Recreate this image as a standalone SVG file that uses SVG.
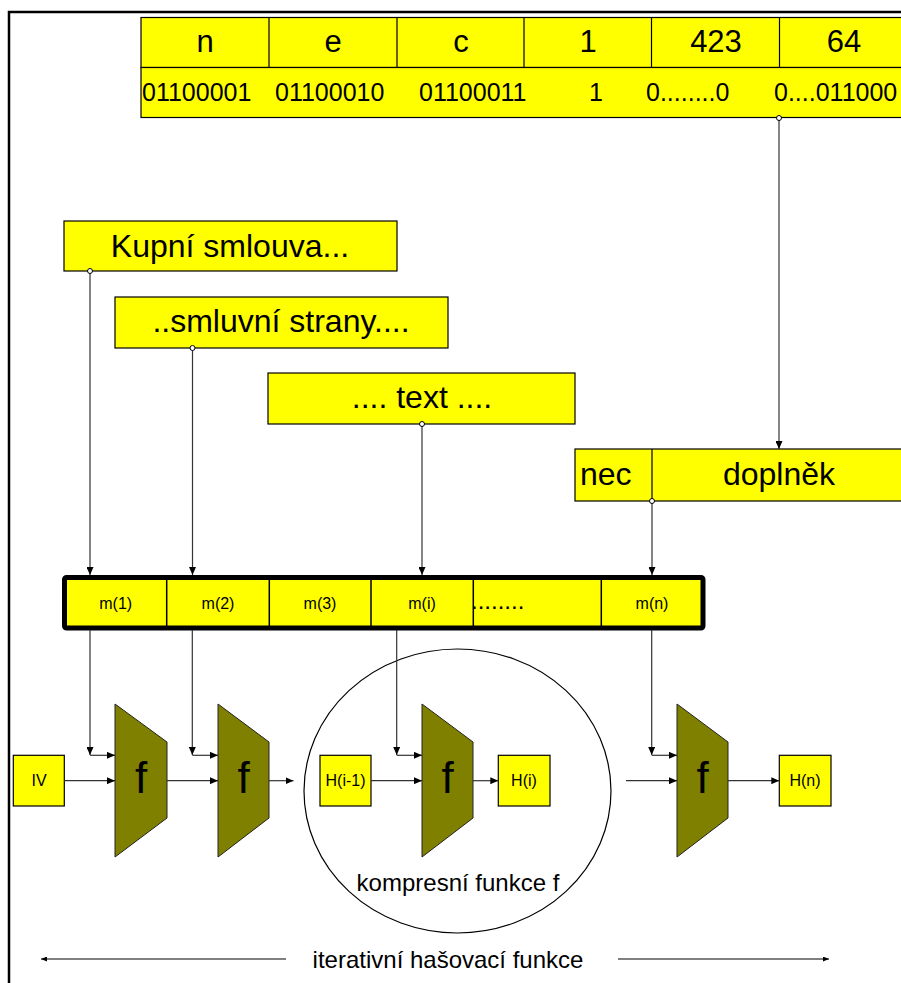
<svg xmlns="http://www.w3.org/2000/svg" width="901" height="983" viewBox="0 0 901 983">
<style>
text{font-family:"Liberation Sans",Arial,sans-serif;fill:#000}
.box{fill:#ffff00;stroke:#000;stroke-width:1.2}
.f{fill:#808000;stroke:#222;stroke-width:1}
.ca{fill:none;stroke:#333;stroke-width:1.2;marker-end:url(#ah)}
.cs{fill:none;stroke:#333;stroke-width:1.2;marker-start:url(#dot);marker-end:url(#ah)}
.big{font-size:31px;text-anchor:middle}
.bits{font-size:25px}
.lbl{font-size:32px;text-anchor:middle}
.sm{font-size:16px;text-anchor:middle}
.ff{font-size:44px;text-anchor:middle}
</style>
<defs>
<marker id="ah" markerUnits="userSpaceOnUse" markerWidth="9" markerHeight="7" refX="8" refY="3.5" orient="auto"><path d="M0,0 L8,3.5 L0,7 z" fill="#000"/></marker>
<marker id="ahs" markerUnits="userSpaceOnUse" markerWidth="7" markerHeight="5" refX="6" refY="2.5" orient="auto"><path d="M0,0 L6,2.5 L0,5 z" fill="#000"/></marker>
<marker id="dot" markerUnits="userSpaceOnUse" markerWidth="7" markerHeight="7" refX="3.5" refY="3.5"><circle cx="3.5" cy="3.5" r="2.5" fill="#fff" stroke="#000" stroke-width="1"/></marker>
</defs>
<rect width="901" height="983" fill="#fff"/>
<path d="M9,983 V12 H901" fill="none" stroke="#000" stroke-width="2.5"/>

<g id="bit-table">
<rect class="box" x="141" y="17.5" width="770" height="50"/>
<rect class="box" x="141" y="67.5" width="770" height="50"/>
<path d="M269,17.5V67.5 M397,17.5V67.5 M524,17.5V67.5 M651.5,17.5V67.5 M779.5,17.5V67.5" stroke="#000" stroke-width="1.2"/>
<text class="big" x="205" y="52">n</text>
<text class="big" x="333" y="52">e</text>
<text class="big" x="588" y="52">1</text>
<text class="big" x="461" y="52">c</text>
<text class="big" x="716" y="52">423</text>
<text class="big" x="844" y="52">64</text>
<text class="bits" x="142" y="101">01100001</text>
<text class="bits" x="275" y="101">01100010</text>
<text class="bits" x="419" y="101">01100011</text>
<text class="bits" x="589" y="101">1</text>
<text class="bits" x="646" y="101">0........0</text>
<text class="bits" x="774" y="101">0....011000</text>
</g>

<g id="kupni">
<rect class="box" x="64" y="221" width="333" height="50"/>
<text class="lbl" x="230" y="257">Kupní smlouva...</text>
</g>
<g id="strany">
<rect class="box" x="115" y="297" width="333" height="51"/>
<text class="lbl" x="281" y="332">..smluvní strany....</text>
</g>
<g id="text">
<rect class="box" x="268" y="373" width="307" height="51"/>
<text class="lbl" x="422" y="408">.... text ....</text>
</g>
<g id="nec-doplnek">
<rect class="box" x="575" y="449" width="336" height="52"/>
<path d="M652,449V501" stroke="#000" stroke-width="1.2"/>
<text x="580" y="485" style="font-size:32px">nec</text>
<text class="lbl" x="779" y="485">doplněk</text>
</g>

<g id="message-blocks">
<rect x="64.5" y="577.5" width="638.5" height="50.5" rx="2" fill="#ffff00" stroke="#000" stroke-width="5"/>
<path d="M166.7,580V626 M269.3,580V626 M371,580V626 M473.3,580V626 M601.3,580V626" stroke="#000" stroke-width="1.5"/>
<text class="sm" x="115.7" y="609">m(1)</text>
<text class="sm" x="218" y="609">m(2)</text>
<text class="sm" x="320" y="609">m(3)</text>
<text class="sm" x="422" y="609">m(i)</text>
<text x="471" y="609" style="font-size:24px">........</text>
<text class="sm" x="652" y="609">m(n)</text>
</g>

<g id="compression-circle">
<ellipse cx="457.5" cy="791" rx="153.5" ry="142" fill="none" stroke="#000" stroke-width="1.2"/>
<text x="458" y="891" style="font-size:24px;text-anchor:middle">kompresní funkce f</text>
</g>

<g id="IV"><rect class="box" x="13.3" y="755.3" width="51" height="50.7"/><text class="sm" x="39" y="786">IV</text></g>
<g id="f1"><path class="f" d="M115,704 L167,742 L167,818 L115,857 Z"/><text class="ff" x="141" y="793">f</text></g>
<g id="f2"><path class="f" d="M218,704 L269,742 L269,818 L218,857 Z"/><text class="ff" x="243.5" y="793">f</text></g>
<g id="Hi-1"><rect class="box" x="320" y="755.3" width="51" height="50.7"/><text class="sm" x="345.5" y="786">H(i-1)</text></g>
<g id="f3"><path class="f" d="M422,704 L473,742 L473,818 L422,857 Z"/><text class="ff" x="447.5" y="793">f</text></g>
<g id="Hi"><rect class="box" x="498.3" y="755.3" width="51.7" height="50.7"/><text class="sm" x="524" y="786">H(i)</text></g>
<g id="f4"><path class="f" d="M677,704 L728,742 L728,818 L677,857 Z"/><text class="ff" x="702.5" y="793">f</text></g>
<g id="Hn"><rect class="box" x="779.3" y="755.3" width="51.7" height="50.7"/><text class="sm" x="805" y="786">H(n)</text></g>

<g id="connectors">
<path class="cs" d="M779,118 V449"/>
<path class="cs" d="M90,271 V575"/>
<path class="cs" d="M192.5,348 V575"/>
<path class="cs" d="M422,424 V575"/>
<path class="cs" d="M652,501 V575"/>
<path class="ca" d="M90,630 V755"/>
<path class="ca" d="M90,755.3 H115"/>
<path class="ca" d="M192.3,630 V755"/>
<path class="ca" d="M192.3,755.3 H218"/>
<path class="ca" d="M396.7,630 V755"/>
<path class="ca" d="M396.7,755.3 H422"/>
<path class="ca" d="M651.7,630 V755"/>
<path class="ca" d="M651.7,755.3 H677"/>
<path class="ca" d="M64.3,780.7 H115"/>
<path class="ca" d="M167,780.7 H218"/>
<path class="ca" d="M269,780.7 H293.5"/>
<path class="ca" d="M371,780.7 H422"/>
<path class="ca" d="M473,780.7 H498.3"/>
<path class="ca" d="M626,780.7 H677"/>
<path class="ca" d="M728,780.7 H779.3"/>
<path d="M286,959 H41" fill="none" stroke="#000" stroke-width="1" marker-end="url(#ahs)"/>
<path d="M618,959 H829" fill="none" stroke="#000" stroke-width="1" marker-end="url(#ahs)"/>
</g>
<text x="448" y="968" style="font-size:24px;text-anchor:middle">iterativní hašovací funkce</text>
</svg>
